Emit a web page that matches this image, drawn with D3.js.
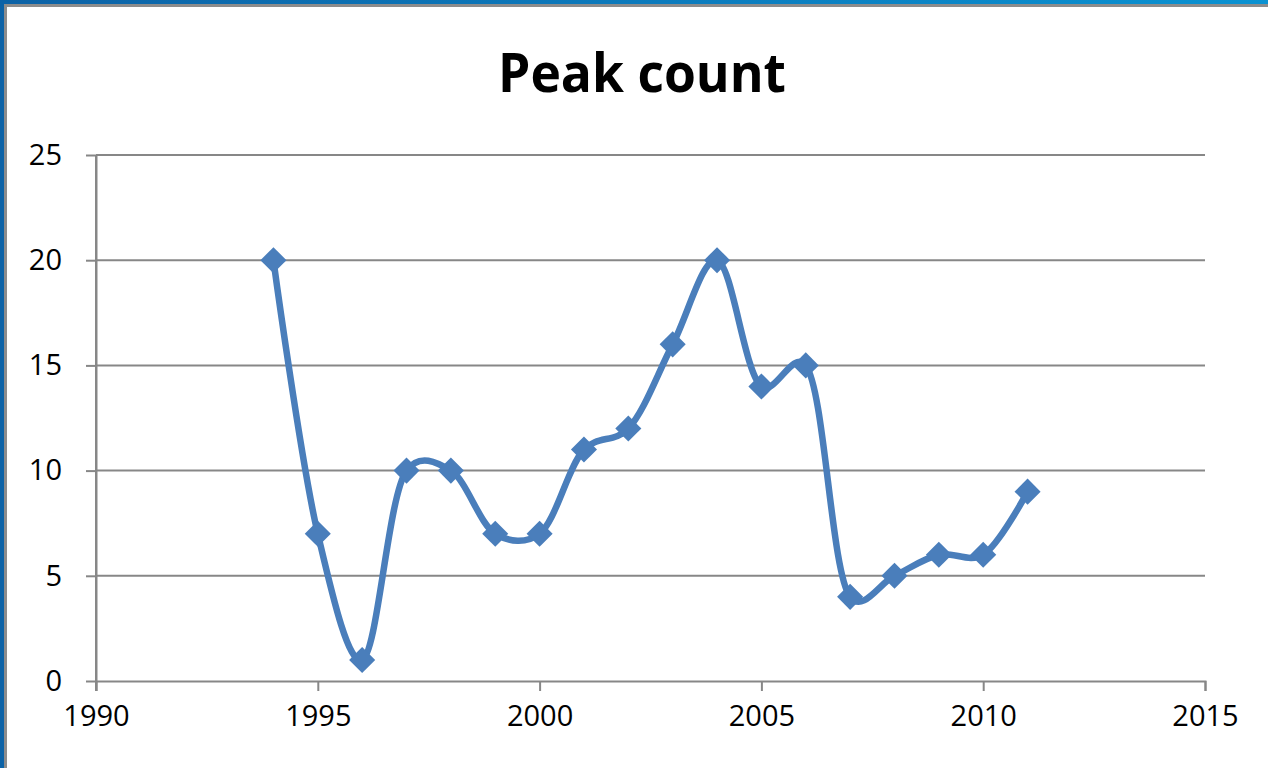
<!DOCTYPE html>
<html>
<head>
<meta charset="utf-8">
<script src="https://cdn.jsdelivr.net/npm/d3@7"></script>
<style>
  html, body { margin: 0; padding: 0; background: #fff; }
  svg { display: block; }
</style>
</head>
<body>
<svg width="1268" height="768"></svg>
<script>
const years = [1994, 1995, 1996, 1997, 1998, 1999, 2000, 2001, 2002, 2003, 2004, 2005, 2006, 2007, 2008, 2009, 2010, 2011];
const peaks = [20, 7, 1, 10, 10, 7, 7, 11, 12, 16, 20, 14, 15, 4, 5, 6, 6, 9];
const xTicks = [1990, 1995, 2000, 2005, 2010, 2015];
const yTicks = [0, 5, 10, 15, 20, 25];

const data = years.map((y, i) => ({ year: y, value: peaks[i] }));

const svg = d3.select("svg");
const width = +svg.attr("width");
const height = +svg.attr("height");
const margin = { top: 155, right: 63, bottom: 87, left: 96 };

// slide frame: blue band + grey line top and left
const grad = svg.append("defs").append("linearGradient")
  .attr("id", "band").attr("x1", "0").attr("x2", "1");
grad.append("stop").attr("offset", "0").attr("stop-color", "#0c62a6");
grad.append("stop").attr("offset", "1").attr("stop-color", "#0a92d2");

svg.append("rect").attr("x", 0).attr("y", 0).attr("width", width).attr("height", 4).attr("fill", "url(#band)");
svg.append("rect").attr("x", 0).attr("y", 0).attr("width", 4).attr("height", height).attr("fill", "#0c62a6");
svg.append("rect").attr("x", 4).attr("y", 4).attr("width", width - 4).attr("height", 3).attr("fill", "#8c8c8c");
svg.append("rect").attr("x", 4).attr("y", 4).attr("width", 3).attr("height", height - 4).attr("fill", "#8c8c8c");

const x = d3.scaleLinear()
  .domain([1990, 2015])
  .range([margin.left, width - margin.right]);

const y = d3.scaleLinear()
  .domain([0, 25])
  .range([height - margin.bottom, margin.top]);

// gridlines
svg.append("g")
  .selectAll("line")
  .data(yTicks.filter(d => d > 0))
  .enter()
  .append("line")
  .attr("x1", margin.left)
  .attr("x2", width - margin.right)
  .attr("y1", d => y(d))
  .attr("y2", d => y(d))
  .attr("stroke", "#878787")
  .attr("stroke-width", 2);

const xAxis = svg.append("g")
  .attr("class", "x-axis")
  .attr("transform", `translate(0,${height - margin.bottom})`)
  .call(d3.axisBottom(x).tickValues(xTicks).tickFormat(d3.format("d")).tickSizeInner(10).tickSizeOuter(10).tickPadding(14));

const yAxis = svg.append("g")
  .attr("class", "y-axis")
  .attr("transform", `translate(${margin.left},0)`)
  .call(d3.axisLeft(y).tickValues(yTicks).tickSizeInner(10).tickSizeOuter(0).tickPadding(24));

svg.selectAll(".x-axis path, .y-axis path")
  .style("stroke", "#878787")
  .style("stroke-width", "2px");
svg.selectAll(".x-axis line, .y-axis line")
  .style("stroke", "#878787")
  .style("stroke-width", "2px");
svg.selectAll(".x-axis text, .y-axis text")
  .style("fill", "#000")
  .style("font-family", "'Open Sans', sans-serif")
  .style("font-size", "29px");

// y axis extends below zero like the tick
svg.append("line")
  .attr("x1", margin.left).attr("x2", margin.left)
  .attr("y1", y(25)).attr("y2", height - margin.bottom + 10)
  .attr("stroke", "#878787").attr("stroke-width", 2);

// title
svg.append("text")
  .attr("x", 642)
  .attr("y", 92)
  .attr("text-anchor", "middle")
  .attr("textLength", 288)
  .attr("lengthAdjust", "spacingAndGlyphs")
  .style("font-family", "'Open Sans', sans-serif")
  .style("font-weight", "bold")
  .style("font-size", "54px")
  .text("Peak count");

const line = d3.line()
  .x(d => x(d.year))
  .y(d => y(d.value))
  .curve(d3.curveCatmullRom.alpha(0.25));

svg.append("path")
  .datum(data)
  .attr("d", line)
  .attr("fill", "none")
  .attr("stroke", "#4a7ebb")
  .attr("stroke-width", 6.5)
  .attr("stroke-linejoin", "round");

const diamond = d3.symbol().type(d3.symbolSquare).size(340);

svg.append("g")
  .selectAll("path")
  .data(data)
  .enter()
  .append("path")
  .attr("d", diamond)
  .attr("transform", d => `translate(${x(d.year)},${y(d.value)}) rotate(45)`)
  .attr("fill", "#4a7ebb");
</script>
</body>
</html>
